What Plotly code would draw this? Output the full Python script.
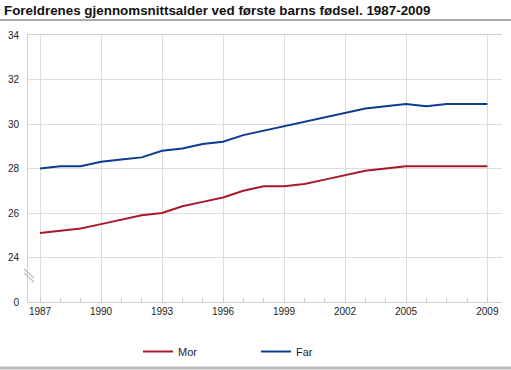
import plotly.graph_objects as go

years = list(range(1987, 2010))
mor = [25.1, 25.2, 25.3, 25.5, 25.7, 25.9, 26.0, 26.3, 26.5, 26.7, 27.0, 27.2,
       27.2, 27.3, 27.5, 27.7, 27.9, 28.0, 28.1, 28.1, 28.1, 28.1, 28.1]
far = [28.0, 28.1, 28.1, 28.3, 28.4, 28.5, 28.8, 28.9, 29.1, 29.2, 29.5, 29.7,
       29.9, 30.1, 30.3, 30.5, 30.7, 30.8, 30.9, 30.8, 30.9, 30.9, 30.9]
x_ticks = [1987, 1990, 1993, 1996, 1999, 2002, 2005, 2009]
y_ticks = [22, 24, 26, 28, 30, 32, 34]
y_labels = ["0", "24", "26", "28", "30", "32", "34"]

title = "Foreldrenes gjennomsnittsalder ved første barns fødsel. 1987-2009"

W, H = 511, 370
L, R, T, B = 28, 9, 35, 68
PW, PH = W - L - R, H - T - B

def px(x):
    return (x - L) / PW

def py(y):
    return (H - B - y) / PH

fig = go.Figure()
fig.add_trace(go.Scatter(x=years, y=mor, mode="lines", name="Mor",
                         line=dict(color="#a8192b", width=2)))
fig.add_trace(go.Scatter(x=years, y=far, mode="lines", name="Far",
                         line=dict(color="#0d3b8e", width=2)))

fig.update_layout(
    width=W, height=H,
    margin=dict(l=L, r=R, t=T, b=B, autoexpand=False),
    paper_bgcolor="white", plot_bgcolor="white",
    font=dict(family="Liberation Sans, Arial, sans-serif", size=11, color="#222"),
    showlegend=True,
    legend=dict(orientation="h", x=px(138), xanchor="left", y=py(337), yanchor="top",
                itemwidth=30, entrywidth=73, entrywidthmode="pixels",
                bgcolor="rgba(0,0,0,0)",
                font=dict(size=11, color="#222")),
    annotations=[dict(text="<b>" + title + "</b>", xref="paper", yref="paper",
                      x=px(2), y=py(1), xanchor="left", yanchor="top",
                      showarrow=False, font=dict(size=13.4, color="#111"))],
    shapes=[
        dict(type="line", xref="paper", yref="paper", x0=px(0), x1=px(W),
             y0=py(20), y1=py(20), line=dict(color="#aaaaaa", width=2)),
        dict(type="line", xref="paper", yref="paper", x0=px(0), x1=px(W),
             y0=py(368), y1=py(368), line=dict(color="#bbbbbb", width=3)),
        dict(type="line", xref="paper", yref="paper", x0=px(24), x1=px(34),
             y0=py(269), y1=py(278), line=dict(color="#bbbbbb", width=1.2)),
        dict(type="line", xref="paper", yref="paper", x0=px(24), x1=px(34),
             y0=py(273), y1=py(282), line=dict(color="#bbbbbb", width=1.2)),
    ],
)

fig.update_xaxes(range=[1986.41, 2009.72], tickvals=x_ticks, ticktext=[str(v) for v in x_ticks],
                 automargin=False,
                 showgrid=True, gridcolor="#dddddd", gridwidth=1,
                 showline=True, linecolor="#d0d0d0", linewidth=1, mirror=True,
                 ticks="", tickfont=dict(size=10, color="#222"),
                 minor=dict(dtick=1, tick0=1987, ticks="inside", ticklen=4,
                            tickcolor="#cccccc", showgrid=False),
                 zeroline=False, fixedrange=True)
fig.update_yaxes(range=[22, 34], tickvals=y_ticks, ticktext=y_labels,
                 automargin=False,
                 showgrid=True, gridcolor="#dddddd", gridwidth=1,
                 showline=True, linecolor="#d0d0d0", linewidth=1,
                 ticks="", ticklabelstandoff=6, tickfont=dict(size=10, color="#222"),
                 zeroline=False, fixedrange=True)

fig.write_html("out.html", config={"displayModeBar": False},
               post_script="document.body.style.margin='0';document.body.style.overflow='hidden';")
